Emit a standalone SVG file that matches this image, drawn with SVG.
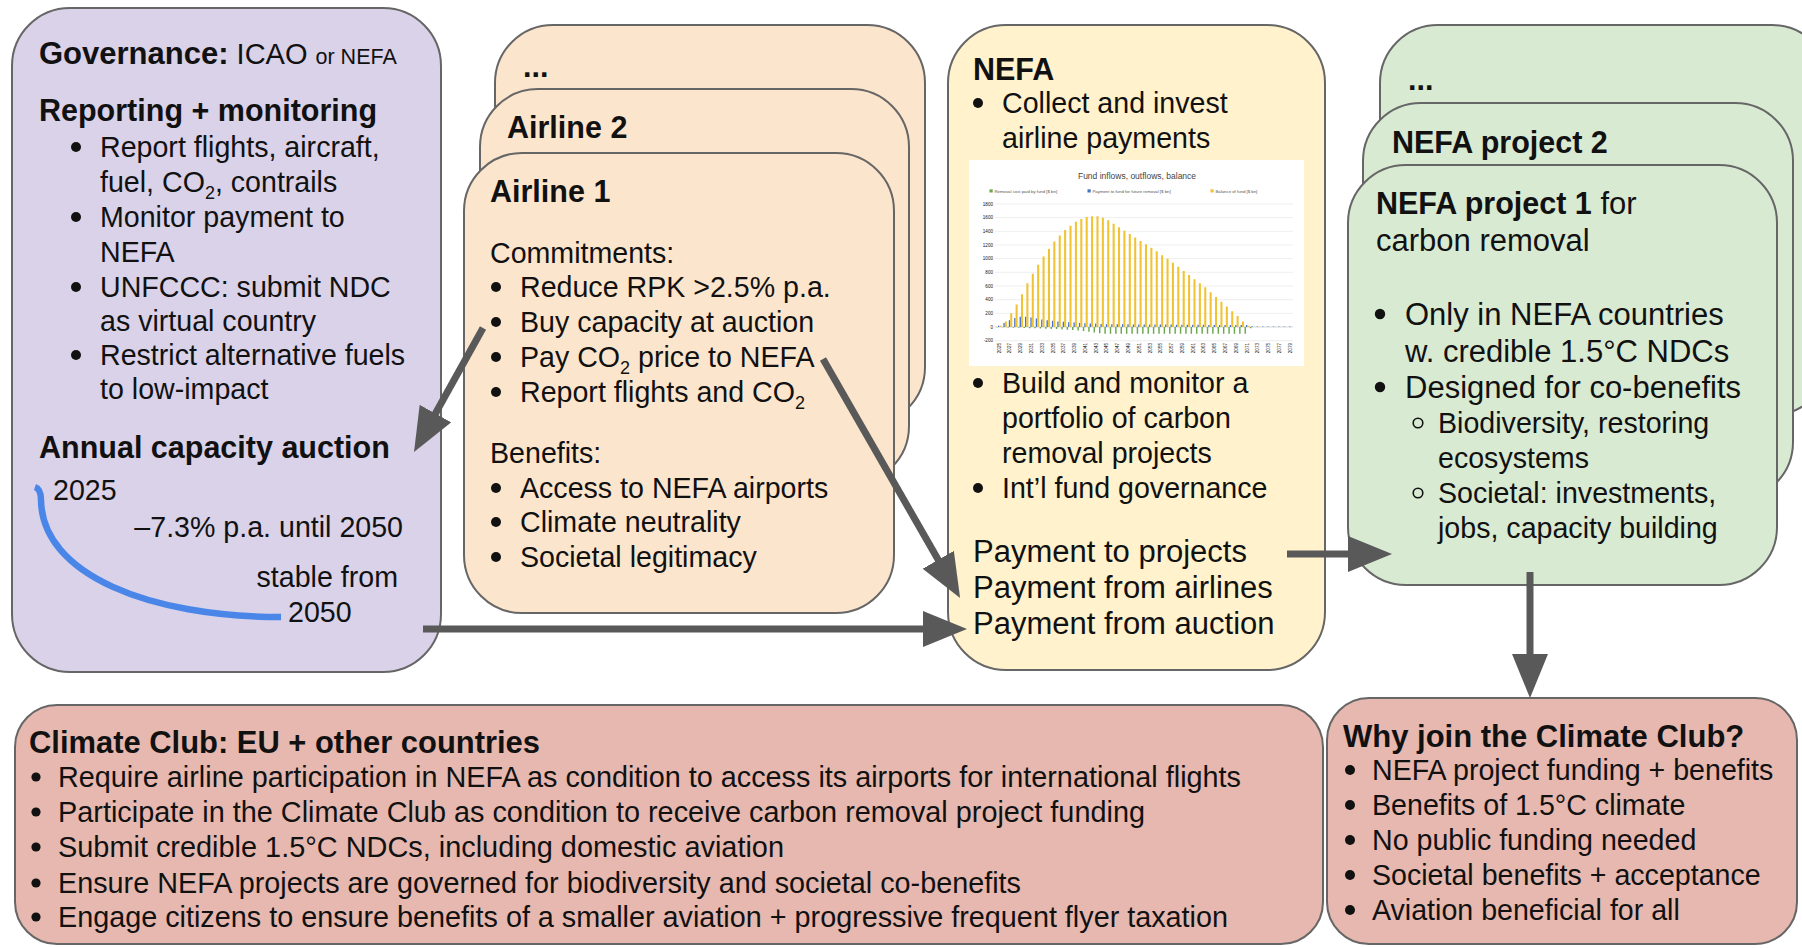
<svg xmlns="http://www.w3.org/2000/svg" width="1802" height="948" viewBox="0 0 1802 948">
  <defs>
    <style>
      .box{stroke:#666;stroke-width:2}
      .gov{fill:#d9d2e9}
      .air{fill:#fce5cd}
      .nefa{fill:#fff2cc}
      .proj{fill:#d9ead3}
      .club{fill:#e6b8af}
      text{font-family:'Liberation Sans',Arial,Helvetica,sans-serif;fill:#111}
      .h{font-size:30.5px;font-weight:bold}
      .t{font-size:28.6px}
      .l{font-size:31px}
      .sub{font-size:18px}
      .dot{fill:#111}
      .ring{fill:none;stroke:#111;stroke-width:1.6}
      .conn{stroke:#595959;stroke-width:7;fill:none;marker-end:url(#ah)}
      .grid{stroke:#e2e2e2;stroke-width:.6}
      .ax{font-size:4.6px;fill:#666}
      .lg{font-size:4.3px;fill:#555}
    </style>
    <marker id="ah" markerUnits="userSpaceOnUse" markerWidth="46" markerHeight="36" refX="6" refY="18" orient="auto">
      <path d="M0,0 L44,18 L0,36 z" fill="#595959"/>
    </marker>
  </defs>

  <rect width="1802" height="948" fill="#ffffff"/>

  <!-- Governance: reporting, monitoring and capacity auction -->
  <g id="governance">
    <rect class="box gov" x="12" y="8" width="429" height="664" rx="58"/>
    <text x="39" y="64"><tspan class="h" style="font-size:31px">Governance:</tspan><tspan style="font-size:29px"> ICAO </tspan><tspan style="font-size:21.5px">or NEFA</tspan></text>
    <text class="h" x="39" y="121">Reporting + monitoring</text>
    <circle class="dot" cx="76" cy="147" r="5"/>
    <text class="t" x="100" y="157">Report flights, aircraft,</text>
    <text class="t" x="100" y="192">fuel, CO<tspan class="sub" dy="7">2</tspan><tspan dy="-7">, contrails</tspan></text>
    <circle class="dot" cx="76" cy="217" r="5"/>
    <text class="t" x="100" y="227">Monitor payment to</text>
    <text class="t" x="100" y="262">NEFA</text>
    <circle class="dot" cx="76" cy="287" r="5"/>
    <text class="t" x="100" y="297">UNFCCC: submit NDC</text>
    <text class="t" x="100" y="331">as virtual country</text>
    <circle class="dot" cx="76" cy="355" r="5"/>
    <text class="t" x="100" y="365">Restrict alternative fuels</text>
    <text class="t" x="100" y="399">to low-impact</text>
    <text class="h" x="39" y="458">Annual capacity auction</text>
    <path d="M35 487 Q41 489 41 500 C42 575 150 617 281 617" fill="none" stroke="#4a86e8" stroke-width="6.5"/>
    <text class="t" x="53" y="500">2025</text>
    <text class="t" x="403" y="537" text-anchor="end">–7.3% p.a. until 2050</text>
    <text class="t" x="398" y="587" text-anchor="end">stable from</text>
    <text class="t" x="288" y="622">2050</text>
  </g>

  <!-- Airline stack -->
  <g id="airline-more">
    <rect class="box air" x="495" y="25" width="430" height="400" rx="58"/>
    <text class="h" x="523" y="77">...</text>
  </g>
  <g id="airline-2">
    <rect class="box air" x="480" y="89" width="429" height="395" rx="58"/>
    <text class="h" x="507" y="138">Airline 2</text>
  </g>
  <g id="airline-1">
    <rect class="box air" x="464" y="153" width="430" height="460" rx="58"/>
    <text class="h" x="490" y="202">Airline 1</text>
    <text class="t" x="490" y="263">Commitments:</text>
    <circle class="dot" cx="496" cy="287" r="5"/>
    <text class="t" x="520" y="297">Reduce RPK &gt;2.5% p.a.</text>
    <circle class="dot" cx="496" cy="322" r="5"/>
    <text class="t" x="520" y="332">Buy capacity at auction</text>
    <circle class="dot" cx="496" cy="357" r="5"/>
    <text class="t" x="520" y="367">Pay CO<tspan class="sub" dy="7">2</tspan><tspan dy="-7"> price to NEFA</tspan></text>
    <circle class="dot" cx="496" cy="392" r="5"/>
    <text class="t" x="520" y="402">Report flights and CO<tspan class="sub" dy="7">2</tspan></text>
    <text class="t" x="490" y="463">Benefits:</text>
    <circle class="dot" cx="496" cy="488" r="5"/>
    <text class="t" x="520" y="498">Access to NEFA airports</text>
    <circle class="dot" cx="496" cy="522" r="5"/>
    <text class="t" x="520" y="532">Climate neutrality</text>
    <circle class="dot" cx="496" cy="557" r="5"/>
    <text class="t" x="520" y="567">Societal legitimacy</text>
  </g>

  <!-- NEFA fund -->
  <g id="nefa">
    <rect class="box nefa" x="948" y="25" width="377" height="645" rx="58"/>
    <text class="h" x="973" y="80">NEFA</text>
    <circle class="dot" cx="978" cy="103" r="5"/>
    <text class="t" x="1002" y="113">Collect and invest</text>
    <text class="t" x="1002" y="148">airline payments</text>

    <!-- fund chart -->
    <g id="fund-chart">
      <rect x="969" y="160" width="335" height="206" fill="#ffffff"/>
      <text x="1137" y="179" text-anchor="middle" style="font-size:8.5px;fill:#444">Fund inflows, outflows, balance</text>
      <rect x="989.5" y="189.3" width="3.2" height="3.2" fill="#6aa84f"/>
      <text class="lg" x="994.5" y="192.5">Removal cost paid by fund [$ bn]</text>
      <rect x="1087.5" y="189.3" width="3.2" height="3.2" fill="#4472c4"/>
      <text class="lg" x="1092.5" y="192.5">Payment to fund for future removal [$ bn]</text>
      <rect x="1210.5" y="189.3" width="3.2" height="3.2" fill="#f1c232"/>
      <text class="lg" x="1215.5" y="192.5">Balance of fund [$ bn]</text>
      <g class="grid">
        <line x1="995" y1="204" x2="1293" y2="204"/>
        <line x1="995" y1="217.6" x2="1293" y2="217.6"/>
        <line x1="995" y1="231.3" x2="1293" y2="231.3"/>
        <line x1="995" y1="245" x2="1293" y2="245"/>
        <line x1="995" y1="258.6" x2="1293" y2="258.6"/>
        <line x1="995" y1="272.3" x2="1293" y2="272.3"/>
        <line x1="995" y1="286" x2="1293" y2="286"/>
        <line x1="995" y1="299.7" x2="1293" y2="299.7"/>
        <line x1="995" y1="313.3" x2="1293" y2="313.3"/>
        <line x1="995" y1="327" x2="1293" y2="327" stroke="#bbb"/>
        <line x1="995" y1="340.7" x2="1293" y2="340.7"/>
      </g>
      <g class="ax" text-anchor="end">
        <text x="993" y="205.6">1800</text>
        <text x="993" y="219.2">1600</text>
        <text x="993" y="232.9">1400</text>
        <text x="993" y="246.6">1200</text>
        <text x="993" y="260.2">1000</text>
        <text x="993" y="273.9">800</text>
        <text x="993" y="287.6">600</text>
        <text x="993" y="301.3">400</text>
        <text x="993" y="314.9">200</text>
        <text x="993" y="328.6">0</text>
        <text x="993" y="342.3">-200</text>
      </g>
      <!-- bars in data units: x = year index, y = $ bn -->
      <g transform="translate(996.3,327) scale(5.39,-0.06835)">
        <path fill="#6aa84f" d="M0.05 0v-3h.27V0z M1.05 0v-5h.27V0z M2.05 0v-8h.27V0z M3.05 0v-10h.27V0z M4.05 0v-12h.27V0z M5.05 0v-15h.27V0z M6.05 0v-18h.27V0z M7.05 0v-20h.27V0z M8.05 0v-22h.27V0z M9.05 0v-25h.27V0z M10.05 0v-28h.27V0z M11.05 0v-30h.27V0z M12.05 0v-35h.27V0z M13.05 0v-40h.27V0z M14.05 0v-45h.27V0z M15.05 0v-50h.27V0z M16.05 0v-60h.27V0z M17.05 0v-70h.27V0z M18.05 0v-80h.27V0z M19.05 0v-90h.27V0z M20.05 0v-100h.27V0z M21.05 0v-100h.27V0z M22.05 0v-100h.27V0z M23.05 0v-100h.27V0z M24.05 0v-100h.27V0z M25.05 0v-100h.27V0z M26.05 0v-100h.27V0z M27.05 0v-100h.27V0z M28.05 0v-100h.27V0z M29.05 0v-100h.27V0z M30.05 0v-100h.27V0z M31.05 0v-100h.27V0z M32.05 0v-100h.27V0z M33.05 0v-100h.27V0z M34.05 0v-100h.27V0z M35.05 0v-100h.27V0z M36.05 0v-100h.27V0z M37.05 0v-100h.27V0z M38.05 0v-100h.27V0z M39.05 0v-100h.27V0z M40.05 0v-100h.27V0z M41.05 0v-100h.27V0z M42.05 0v-100h.27V0z M43.05 0v-100h.27V0z M44.05 0v-100h.27V0z M45.05 0v-100h.27V0z M46.05 0v-100h.27V0z M47.05 0v-20h.27V0z"/>
        <path fill="#4472c4" d="M0.32 0v20h.25V0z M1.32 0v60h.25V0z M2.32 0v100h.25V0z M3.32 0v130h.25V0z M4.32 0v150h.25V0z M5.32 0v150h.25V0z M6.32 0v140h.25V0z M7.32 0v125h.25V0z M8.32 0v110h.25V0z M9.32 0v100h.25V0z M10.32 0v90h.25V0z M11.32 0v80h.25V0z M12.32 0v75h.25V0z M13.32 0v70h.25V0z M14.32 0v65h.25V0z M15.32 0v60h.25V0z M16.32 0v55h.25V0z M17.32 0v50h.25V0z M18.32 0v50h.25V0z M19.32 0v45h.25V0z M20.32 0v40h.25V0z M21.32 0v40h.25V0z M22.32 0v40h.25V0z M23.32 0v40h.25V0z M24.32 0v40h.25V0z M25.32 0v38h.25V0z M26.32 0v38h.25V0z M27.32 0v38h.25V0z M28.32 0v36h.25V0z M29.32 0v36h.25V0z M30.32 0v36h.25V0z M31.32 0v35h.25V0z M32.32 0v35h.25V0z M33.32 0v34h.25V0z M34.32 0v34h.25V0z M35.32 0v33h.25V0z M36.32 0v33h.25V0z M37.32 0v32h.25V0z M38.32 0v32h.25V0z M39.32 0v31h.25V0z M40.32 0v31h.25V0z M41.32 0v30h.25V0z M42.32 0v30h.25V0z M43.32 0v30h.25V0z M44.32 0v30h.25V0z M45.32 0v30h.25V0z M46.32 0v30h.25V0z M47.32 0v10h.25V0z M48.32 0v8h.25V0z M49.32 0v8h.25V0z M50.32 0v8h.25V0z M51.32 0v8h.25V0z M52.32 0v8h.25V0z M53.32 0v8h.25V0z M54.32 0v8h.25V0z"/>
        <path fill="#f1c232" d="M0.58 0v20h.38V0z M1.58 0v80h.38V0z M2.58 0v200h.38V0z M3.58 0v330h.38V0z M4.58 0v480h.38V0z M5.58 0v640h.38V0z M6.58 0v780h.38V0z M7.58 0v910h.38V0z M8.58 0v1030h.38V0z M9.58 0v1140h.38V0z M10.58 0v1250h.38V0z M11.58 0v1340h.38V0z M12.58 0v1420h.38V0z M13.58 0v1480h.38V0z M14.58 0v1540h.38V0z M15.58 0v1580h.38V0z M16.58 0v1610h.38V0z M17.58 0v1620h.38V0z M18.58 0v1620h.38V0z M19.58 0v1600h.38V0z M20.58 0v1560h.38V0z M21.58 0v1510h.38V0z M22.58 0v1460h.38V0z M23.58 0v1410h.38V0z M24.58 0v1360h.38V0z M25.58 0v1310h.38V0z M26.58 0v1260h.38V0z M27.58 0v1210h.38V0z M28.58 0v1160h.38V0z M29.58 0v1110h.38V0z M30.58 0v1050h.38V0z M31.58 0v1000h.38V0z M32.58 0v940h.38V0z M33.58 0v880h.38V0z M34.58 0v820h.38V0z M35.58 0v760h.38V0z M36.58 0v700h.38V0z M37.58 0v640h.38V0z M38.58 0v580h.38V0z M39.58 0v510h.38V0z M40.58 0v440h.38V0z M41.58 0v370h.38V0z M42.58 0v300h.38V0z M43.58 0v230h.38V0z M44.58 0v160h.38V0z M45.58 0v80h.38V0z M46.58 0v20h.38V0z"/>
      </g>
      <!-- rotated year labels -->
      <g class="ax" transform="translate(0,343) rotate(-90)" text-anchor="end">
        <text x="0" y="1000.6">2025</text>
        <text x="0" y="1011.4">2027</text>
        <text x="0" y="1022.2">2029</text>
        <text x="0" y="1032.9">2031</text>
        <text x="0" y="1043.7">2033</text>
        <text x="0" y="1054.5">2035</text>
        <text x="0" y="1065.3">2037</text>
        <text x="0" y="1076.1">2039</text>
        <text x="0" y="1086.8">2041</text>
        <text x="0" y="1097.6">2043</text>
        <text x="0" y="1108.4">2045</text>
        <text x="0" y="1119.2">2047</text>
        <text x="0" y="1130">2049</text>
        <text x="0" y="1140.7">2051</text>
        <text x="0" y="1151.5">2053</text>
        <text x="0" y="1162.3">2055</text>
        <text x="0" y="1173.1">2057</text>
        <text x="0" y="1183.9">2059</text>
        <text x="0" y="1194.6">2061</text>
        <text x="0" y="1205.4">2063</text>
        <text x="0" y="1216.2">2065</text>
        <text x="0" y="1227">2067</text>
        <text x="0" y="1237.8">2069</text>
        <text x="0" y="1248.5">2071</text>
        <text x="0" y="1259.3">2073</text>
        <text x="0" y="1270.1">2075</text>
        <text x="0" y="1280.9">2077</text>
        <text x="0" y="1291.7">2079</text>
      </g>
    </g>

    <circle class="dot" cx="978" cy="383" r="5"/>
    <text class="t" x="1002" y="393">Build and monitor a</text>
    <text class="t" x="1002" y="428">portfolio of carbon</text>
    <text class="t" x="1002" y="463">removal projects</text>
    <circle class="dot" cx="978" cy="488" r="5"/>
    <text class="t" x="1002" y="498">Int’l fund governance</text>
    <text class="l" x="973" y="562">Payment to projects</text>
    <text class="l" x="973" y="598">Payment from airlines</text>
    <text class="l" x="973" y="634">Payment from auction</text>
  </g>

  <!-- NEFA project stack -->
  <g id="project-more">
    <rect class="box proj" x="1380" y="25" width="450" height="390" rx="58"/>
    <text class="h" x="1408" y="90">...</text>
  </g>
  <g id="project-2">
    <rect class="box proj" x="1363" y="103" width="430" height="397" rx="58"/>
    <text class="h" x="1392" y="153">NEFA project 2</text>
  </g>
  <g id="project-1">
    <rect class="box proj" x="1348" y="165" width="429" height="420" rx="58"/>
    <text x="1376" y="214"><tspan class="h">NEFA project 1</tspan><tspan class="l"> for</tspan></text>
    <text class="l" x="1376" y="251">carbon removal</text>
    <circle class="dot" cx="1380" cy="314" r="5.2"/>
    <text class="l" x="1405" y="325">Only in NEFA countries</text>
    <text class="l" x="1405" y="362">w. credible 1.5°C NDCs</text>
    <circle class="dot" cx="1380" cy="387" r="5.2"/>
    <text class="l" x="1405" y="398">Designed for co-benefits</text>
    <circle class="ring" cx="1418" cy="423" r="4.8"/>
    <text class="t" x="1438" y="433">Biodiversity, restoring</text>
    <text class="t" x="1438" y="468">ecosystems</text>
    <circle class="ring" cx="1418" cy="493" r="4.8"/>
    <text class="t" x="1438" y="503">Societal: investments,</text>
    <text class="t" x="1438" y="538">jobs, capacity building</text>
  </g>

  <!-- Climate Club -->
  <g id="climate-club">
    <rect class="box club" x="15" y="705" width="1308" height="239" rx="42"/>
    <text x="29" y="753" textLength="511" lengthAdjust="spacingAndGlyphs" style="font-size:31px;font-weight:bold">Climate Club: EU + other countries</text>
    <circle class="dot" cx="36" cy="777" r="4.6"/>
    <text x="58" y="787" textLength="1183" lengthAdjust="spacingAndGlyphs" style="font-size:29px">Require airline participation in NEFA as condition to access its airports for international flights</text>
    <circle class="dot" cx="36" cy="812" r="4.6"/>
    <text x="58" y="822" textLength="1087" lengthAdjust="spacingAndGlyphs" style="font-size:29px">Participate in the Climate Club as condition to receive carbon removal project funding</text>
    <circle class="dot" cx="36" cy="847" r="4.6"/>
    <text x="58" y="857" textLength="726" lengthAdjust="spacingAndGlyphs" style="font-size:29px">Submit credible 1.5°C NDCs, including domestic aviation</text>
    <circle class="dot" cx="36" cy="883" r="4.6"/>
    <text x="58" y="893" textLength="963" lengthAdjust="spacingAndGlyphs" style="font-size:29px">Ensure NEFA projects are governed for biodiversity and societal co-benefits</text>
    <circle class="dot" cx="36" cy="917" r="4.6"/>
    <text x="58" y="927" textLength="1170" lengthAdjust="spacingAndGlyphs" style="font-size:29px">Engage citizens to ensure benefits of a smaller aviation + progressive frequent flyer taxation</text>
  </g>

  <!-- Why join -->
  <g id="why-join">
    <rect class="box club" x="1327" y="698" width="470" height="246" rx="42"/>
    <text class="h" x="1343" y="747" style="font-size:31px">Why join the Climate Club?</text>
    <circle class="dot" cx="1350" cy="770" r="5"/>
    <text class="t" x="1372" y="780">NEFA project funding + benefits</text>
    <circle class="dot" cx="1350" cy="805" r="5"/>
    <text class="t" x="1372" y="815">Benefits of 1.5°C climate</text>
    <circle class="dot" cx="1350" cy="840" r="5"/>
    <text class="t" x="1372" y="850">No public funding needed</text>
    <circle class="dot" cx="1350" cy="875" r="5"/>
    <text class="t" x="1372" y="885">Societal benefits + acceptance</text>
    <circle class="dot" cx="1350" cy="910" r="5"/>
    <text class="t" x="1372" y="920">Aviation beneficial for all</text>
  </g>

  <!-- Connectors -->
  <g id="connectors">
    <line class="conn" x1="483" y1="328" x2="432.5" y2="418.8"/>
    <line class="conn" x1="823" y1="359" x2="941.2" y2="565"/>
    <line class="conn" x1="423" y1="629" x2="929" y2="629"/>
    <line class="conn" x1="1287" y1="554" x2="1354" y2="554"/>
    <line class="conn" x1="1530" y1="572" x2="1530" y2="660"/>
  </g>
</svg>
